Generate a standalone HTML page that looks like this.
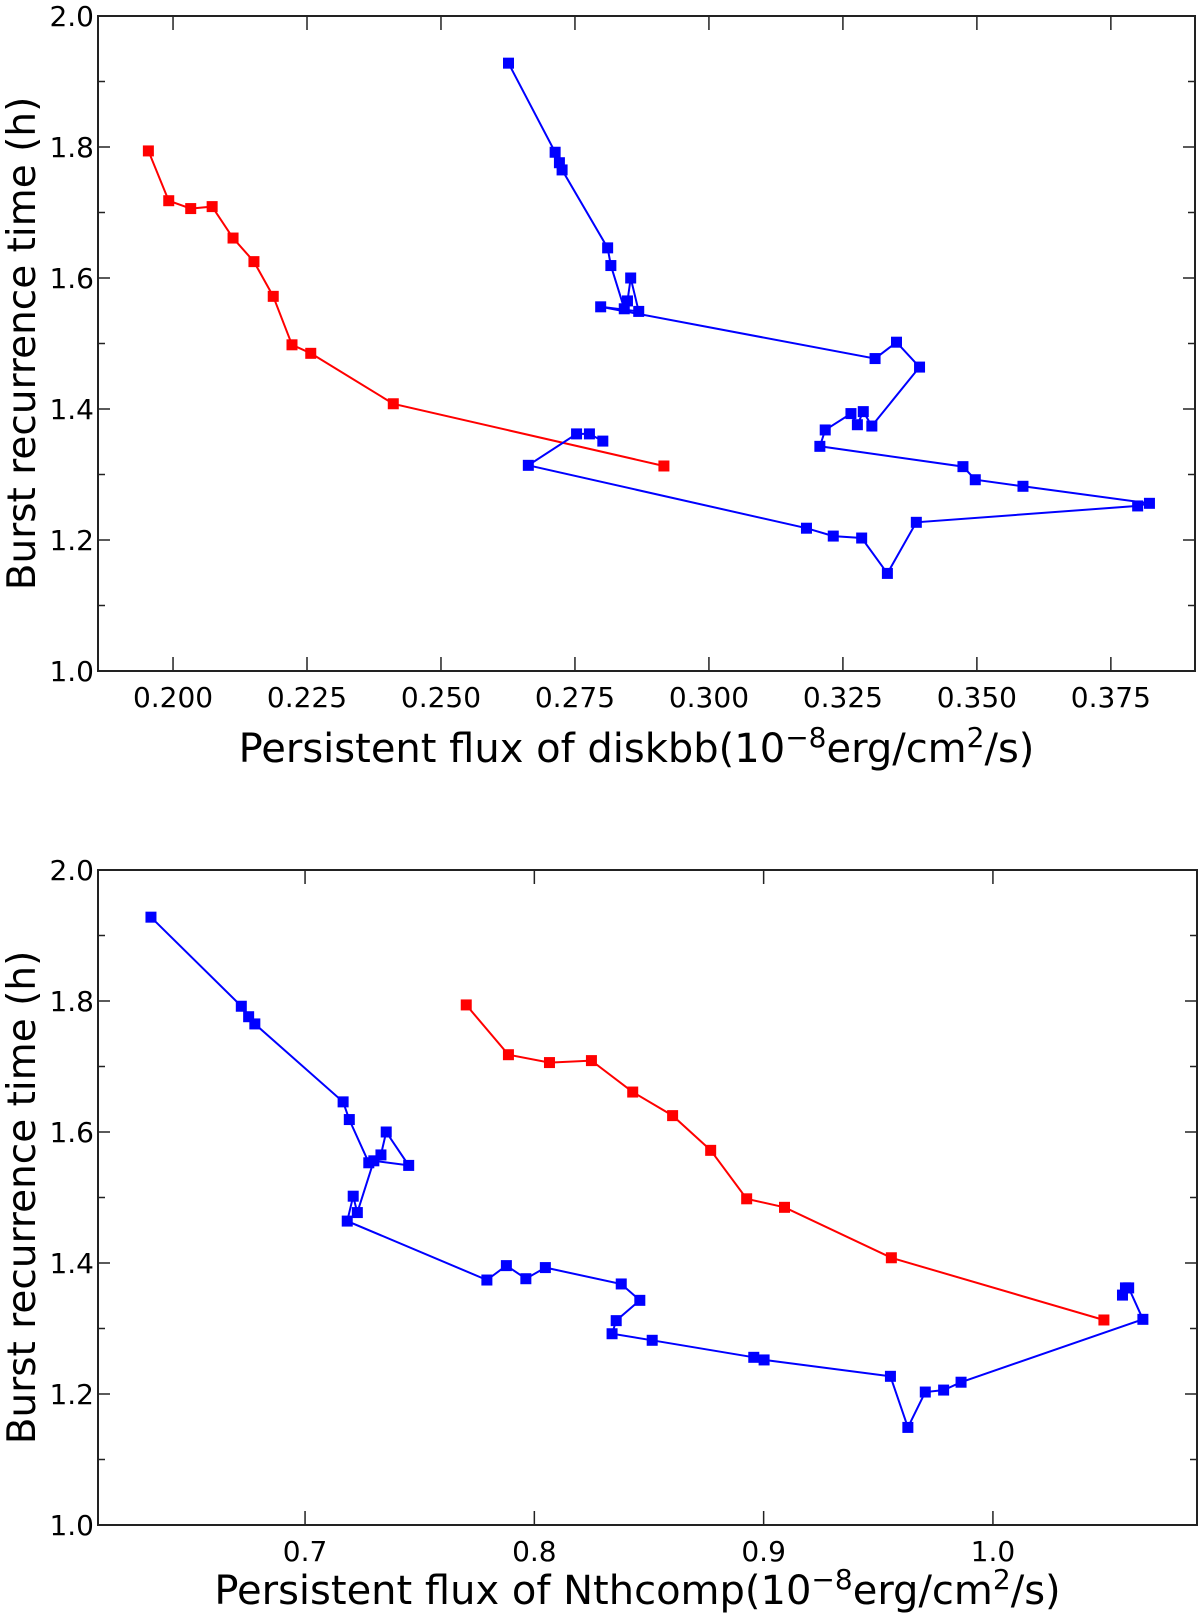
<!DOCTYPE html>
<html><head><meta charset="utf-8"><style>
body{margin:0;background:#fff}
svg{display:block;font-family:"DejaVu Sans","Liberation Sans",sans-serif}
</style></head><body>
<svg id="chart" width="1200" height="1616" viewBox="0 0 1200 1616" xmlns="http://www.w3.org/2000/svg"></svg>
<script>
// ---- data ----
const yTicks = [1.0, 1.2, 1.4, 1.6, 1.8, 2.0];
const yTickLabels = ["1.0", "1.2", "1.4", "1.6", "1.8", "2.0"];
const topXTicks = [0.200, 0.225, 0.250, 0.275, 0.300, 0.325, 0.350, 0.375];
const topXTickLabels = ["0.200", "0.225", "0.250", "0.275", "0.300", "0.325", "0.350", "0.375"];
const botXTicks = [0.7, 0.8, 0.9, 1.0];
const botXTickLabels = ["0.7", "0.8", "0.9", "1.0"];

const redY = [1.794, 1.718, 1.706, 1.709, 1.661, 1.625, 1.572, 1.498, 1.485, 1.408, 1.313];
const redDiskbb = [0.1954, 0.1992, 0.2033, 0.2073, 0.2112, 0.2151, 0.2187, 0.2222, 0.2257, 0.2411, 0.2916];
const redNthcomp = [0.7703, 0.7887, 0.8066, 0.8249, 0.8429, 0.8603, 0.8769, 0.8926, 0.9091, 0.9557, 1.0484];

const blueY = [1.928, 1.792, 1.776, 1.765, 1.646, 1.619, 1.553, 1.565, 1.600, 1.549, 1.556, 1.477, 1.502, 1.464,
  1.374, 1.396, 1.376, 1.393, 1.368, 1.343, 1.312, 1.292, 1.282, 1.256, 1.252, 1.227, 1.149, 1.203, 1.206, 1.218,
  1.314, 1.362, 1.362, 1.351];
const blueDiskbb = [0.2626, 0.2713, 0.2721, 0.2726, 0.2811, 0.2817, 0.2842, 0.2848, 0.2854, 0.2869, 0.2798, 0.3310, 0.3350, 0.3393,
  0.3304, 0.3288, 0.3277, 0.3265, 0.3217, 0.3207, 0.3474, 0.3497, 0.3586, 0.3822, 0.3800, 0.3387, 0.3333, 0.3285, 0.3232, 0.3182,
  0.2663, 0.2753, 0.2777, 0.2802];
const blueNthcomp = [0.6328, 0.6722, 0.6754, 0.6781, 0.7166, 0.7193, 0.7278, 0.7331, 0.7354, 0.7452, 0.7300, 0.7228, 0.7210, 0.7184,
  0.7793, 0.7878, 0.7963, 0.8048, 0.8379, 0.8460, 0.8357, 0.8339, 0.8514, 0.8957, 0.9002, 0.9553, 0.9629, 0.9705, 0.9785, 0.9861,
  1.0654, 1.0592, 1.0578, 1.0565];

const NS = "http://www.w3.org/2000/svg";
const svg = document.getElementById("chart");
function mk(tag, attrs, parent) {
  const e = document.createElementNS(NS, tag);
  for (const k in attrs) e.setAttribute(k, attrs[k]);
  (parent || svg).appendChild(e);
  return e;
}

function panel(cfg) {
  const g = mk("g", {});
  
  
  const L = cfg.left, R = cfg.right, T = cfg.top, B = cfg.bottom;
  const sx = v => L + (v - cfg.xmin) / (cfg.xmax - cfg.xmin) * (R - L);
  const sy = v => B - (v - 1.0) / (2.0 - 1.0) * (B - T);
  const frame = mk("rect", {x: L, y: T, width: R - L, height: B - T, fill: "none", stroke: "#222", "stroke-width": 2}, g);
  
  
  yTicks.forEach((v, i) => {
    const y = sy(v);
    mk("line", {x1: L, x2: L + 12, y1: y, y2: y, stroke: "#222", "stroke-width": 1.5}, g);
    mk("line", {x1: R, x2: R - 12, y1: y, y2: y, stroke: "#222", "stroke-width": 1.5}, g);
    const t = mk("text", {x: L - 4, y: y + 10, "text-anchor": "end", "font-size": 28, fill: "#000"}, g);
    t.textContent = yTickLabels[i];
    
    
    if (i < yTicks.length - 1) {
      const ym = sy(v + 0.1);
      mk("line", {x1: L, x2: L + 7, y1: ym, y2: ym, stroke: "#222", "stroke-width": 1.5}, g);
      mk("line", {x1: R, x2: R - 7, y1: ym, y2: ym, stroke: "#222", "stroke-width": 1.5}, g);
    }
  });
  cfg.xt.forEach((v, i) => {
    const x = sx(v);
    mk("line", {x1: x, x2: x, y1: B, y2: B - 14, stroke: "#222", "stroke-width": 1.5}, g);
    mk("line", {x1: x, x2: x, y1: T, y2: T + 14, stroke: "#222", "stroke-width": 1.5}, g);
    const t = mk("text", {x: x, y: B + 36, "text-anchor": "middle", "font-size": 28, fill: "#000"}, g);
    t.textContent = cfg.xl[i];
    
    
  });
  const series = [[cfg.redX, redY, "#ff0000", "red-series"], [cfg.blueX, blueY, "#0000ff", "blue-series"]];
  series.forEach(([xs, ys, col, nm]) => {
    const sg = mk("g", {}, g);
    
    
    const pts = xs.map((x, i) => sx(x).toFixed(1) + "," + sy(ys[i]).toFixed(1)).join(" ");
    mk("polyline", {points: pts, fill: "none", stroke: col, "stroke-width": 2}, sg);
    xs.forEach((x, i) => {
      const r = mk("rect", {x: sx(x) - 5.5, y: sy(ys[i]) - 5.5, width: 11, height: 11, fill: col}, sg);
      
      
    });
  });
  const xl = mk("text", {x: (L + R) / 2 - 10, y: cfg.xLabelY, "text-anchor": "middle", "font-size": 40, fill: "#000"}, g);
  xl.innerHTML = cfg.xLabel + '(10<tspan dy="-15" font-size="28">−8</tspan><tspan dy="15">erg/cm</tspan><tspan dy="-15" font-size="28">2</tspan><tspan dy="15">/s)</tspan>';
  
  
  const yl = mk("text", {x: 0, y: 0, transform: `translate(35,${(T + B) / 2}) rotate(-90)`, "text-anchor": "middle", "font-size": 39, fill: "#000"}, g);
  yl.textContent = "Burst recurrence time (h)";
  
  
}

panel({name: "diskbb-panel", left: 98, right: 1195, top: 16, bottom: 671, xmin: 0.1860, xmax: 0.3907,
  xt: topXTicks, xl: topXTickLabels, redX: redDiskbb, blueX: blueDiskbb, xLabelY: 762, xLabel: "Persistent flux of diskbb"});
panel({name: "nthcomp-panel", left: 98, right: 1197, top: 870, bottom: 1525, xmin: 0.6097, xmax: 1.0890,
  xt: botXTicks, xl: botXTickLabels, redX: redNthcomp, blueX: blueNthcomp, xLabelY: 1604, xLabel: "Persistent flux of Nthcomp"});
</script>
</body></html>
